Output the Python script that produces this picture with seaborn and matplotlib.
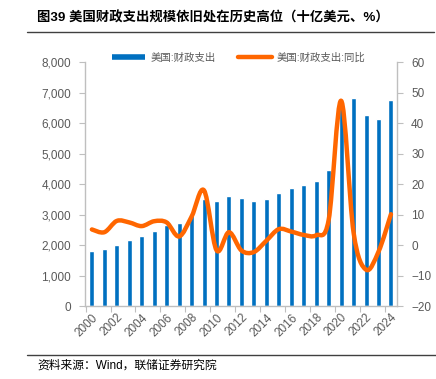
import numpy as np
import pandas as pd
import matplotlib
matplotlib.use('Agg')
import matplotlib.pyplot as plt
import seaborn as sns
from matplotlib.path import Path
from matplotlib.patches import PathPatch
from matplotlib.lines import Line2D

# data (billion USD, % yoy)
years = ['2000', '2001', '2002', '2003', '2004', '2005', '2006', '2007', '2008',
         '2009', '2010', '2011', '2012', '2013', '2014', '2015', '2016', '2017',
         '2018', '2019', '2020', '2021', '2022', '2023', '2024']
spending = [1789, 1863, 2011, 2160, 2293, 2472, 2655, 2729, 2983, 3518, 3457,
            3603, 3537, 3455, 3506, 3692, 3853, 3982, 4109, 4447, 6552, 6822,
            6273, 6135, 6752]
yoy = [5.1, 4.2, 7.9, 7.4, 6.2, 7.8, 7.4, 2.8, 9.3, 17.9, -1.7, 4.2, -1.8,
       -2.3, 1.4, 5.2, 4.4, 3.3, 3.2, 8.2, 47.3, 4.1, -8.1, -2.2, 10.1]
tick_years = years[::2]

title = '图39 美国财政支出规模依旧处在历史高位（十亿美元、%）'
source = '资料来源：Wind，联储证券研究院'
bar_name = '美国:财政支出'
line_name = '美国:财政支出:同比'

blue = '#0070C0'
orange = '#FF6600'
grey_txt = '#595959'
grey_ax = '#BFBFBF'

sns.set_theme(style='white')
plt.rcParams['font.family'] = ['Liberation Sans', 'Noto Sans CJK SC']

df = pd.DataFrame({'year': years, 'spending': spending, 'yoy': yoy})

fig = plt.figure(figsize=(4.36, 3.79), dpi=100)
ax = fig.add_axes([0.195, 0.1926, 0.716, 0.6438])

sns.barplot(data=df, x='year', y='spending', color=blue, saturation=1,
            width=0.4, ax=ax)
ax.set_xlim(-0.55, 24.5)
ax.set_ylim(0, 8000)
ax.set_yticks(range(0, 8001, 1000))
ax.set_yticklabels([f'{v:,}' for v in range(0, 8001, 1000)])
ax.set_xticks(range(0, 25, 2))
ax.set_xticklabels(tick_years, rotation=45, ha='right', rotation_mode='anchor')
ax.set_xticks(np.arange(-0.5, 24, 2), minor=True)
ax.set_xlabel('')
ax.set_ylabel('')

# secondary axis with smoothed line (bezier through the yoy points)
ax2 = ax.twinx()
ax2.set_ylim(-20, 60)
ax2.set_yticks(range(-20, 61, 10))
x = np.arange(len(yoy), dtype=float)
pts = np.column_stack([x, yoy])
n = len(pts)
verts = [pts[0]]
codes = [Path.MOVETO]
for i in range(n - 1):
    p0 = pts[max(i - 1, 0)]
    p1 = pts[i]
    p2 = pts[i + 1]
    p3 = pts[min(i + 2, n - 1)]
    verts += [p1 + (p2 - p0) / 6, p2 - (p3 - p1) / 6, p2]
    codes += [Path.CURVE4] * 3
ax2.add_patch(PathPatch(Path(verts, codes), facecolor='none', edgecolor=orange,
                        lw=3.2, capstyle='round', joinstyle='round'))

# spines and ticks
for a in (ax, ax2):
    for s in a.spines.values():
        s.set_visible(False)
ax.spines['left'].set_visible(True)
ax.spines['bottom'].set_visible(True)
ax2.spines['right'].set_visible(True)
for s in (ax.spines['left'], ax.spines['bottom'], ax2.spines['right']):
    s.set_color(grey_ax)
    s.set_linewidth(1)

ax.tick_params(axis='y', left=True, length=4, width=0.8, color=grey_ax,
               labelcolor=grey_txt, labelsize=8.5, pad=6)
ax.tick_params(axis='x', which='major', bottom=True, length=0,
               labelcolor=grey_txt, labelsize=8.5, pad=4)
ax.tick_params(axis='x', which='minor', bottom=True, length=4, width=0.8,
               color=grey_ax)
ax2.tick_params(axis='y', right=True, left=False, length=4, width=0.8,
                color=grey_ax, labelcolor=grey_txt, labelsize=8.5, pad=6)
ax.grid(False)
ax2.grid(False)

# legend
handles = [Line2D([], [], color=blue, lw=4, solid_capstyle='butt'),
           Line2D([], [], color=orange, lw=3.2, solid_capstyle='round')]
fig.legend(handles, [bar_name, line_name], loc='center left',
           bbox_to_anchor=(0.235, 0.847), ncol=2, frameon=False,
           fontsize=7.5, handlelength=3.2, handletextpad=0.5,
           columnspacing=2.2, labelcolor=grey_txt)

# title, rules and source
fig.text(0.085, 0.952, title, fontsize=9.6, fontweight='bold', va='center',
         color='black')
fig.add_artist(Line2D([0.062, 0.995], [1 - 31.5 / 379] * 2, color='#404040',
                      lw=1))
fig.add_artist(Line2D([0.062, 1.0], [1 - 355 / 379] * 2, color='#404040',
                      lw=1))
fig.text(0.085, 1 - 366 / 379, source, fontsize=8.5, va='center',
         color='black')

fig.savefig('out.png', dpi=100)
